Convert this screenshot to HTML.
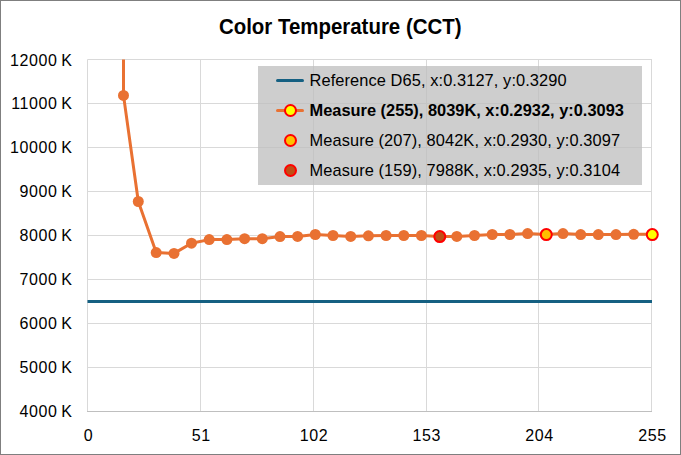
<!DOCTYPE html>
<html><head><meta charset="utf-8"><style>
html,body{margin:0;padding:0;}
body{width:681px;height:455px;position:relative;overflow:hidden;background:#fff;font-family:"Liberation Sans",sans-serif;color:#000;}
.frame{position:absolute;left:0;top:0;width:679px;height:453px;border:1px solid #7f7f7f;}
svg{position:absolute;left:0;top:0;}
.title{position:absolute;left:0;width:681px;top:14px;text-align:center;font-weight:bold;font-size:20.45px;line-height:24px;transform:translate(-0.3px,0.6px) scaleY(1.07);transform-origin:50% 19px;}
.yl{position:absolute;left:0;width:72px;text-align:right;font-size:16px;line-height:18px;}
.xl{position:absolute;top:427px;width:60px;text-align:center;font-size:16px;line-height:18px;}
.lg{position:absolute;left:258px;top:66px;width:384px;height:119px;background:rgba(191,191,191,0.76);}
.lt{position:absolute;left:51.5px;font-size:16.4px;letter-spacing:0.09px;line-height:18px;white-space:nowrap;}
</style></head><body>
<div class="frame"></div>
<div class="title">Color Temperature (CCT)</div>
<svg width="681" height="455" viewBox="0 0 681 455">
<line x1="87.5" y1="59.5" x2="652.0" y2="59.5" stroke="#d9d9d9" stroke-width="1"/>
<line x1="87.5" y1="103.5" x2="652.0" y2="103.5" stroke="#d9d9d9" stroke-width="1"/>
<line x1="87.5" y1="147.5" x2="652.0" y2="147.5" stroke="#d9d9d9" stroke-width="1"/>
<line x1="87.5" y1="191.5" x2="652.0" y2="191.5" stroke="#d9d9d9" stroke-width="1"/>
<line x1="87.5" y1="235.5" x2="652.0" y2="235.5" stroke="#d9d9d9" stroke-width="1"/>
<line x1="87.5" y1="279.5" x2="652.0" y2="279.5" stroke="#d9d9d9" stroke-width="1"/>
<line x1="87.5" y1="323.5" x2="652.0" y2="323.5" stroke="#d9d9d9" stroke-width="1"/>
<line x1="87.5" y1="367.5" x2="652.0" y2="367.5" stroke="#d9d9d9" stroke-width="1"/>
<line x1="87.5" y1="411.5" x2="652.0" y2="411.5" stroke="#d9d9d9" stroke-width="1"/>
<line x1="87.50" y1="59.5" x2="87.50" y2="411.5" stroke="#d9d9d9" stroke-width="1"/>
<line x1="200.50" y1="59.5" x2="200.50" y2="411.5" stroke="#d9d9d9" stroke-width="1"/>
<line x1="313.50" y1="59.5" x2="313.50" y2="411.5" stroke="#d9d9d9" stroke-width="1"/>
<line x1="426.50" y1="59.5" x2="426.50" y2="411.5" stroke="#d9d9d9" stroke-width="1"/>
<line x1="538.50" y1="59.5" x2="538.50" y2="411.5" stroke="#d9d9d9" stroke-width="1"/>
<line x1="651.50" y1="59.5" x2="651.50" y2="411.5" stroke="#d9d9d9" stroke-width="1"/>
<line x1="87.0" y1="411.5" x2="652.0" y2="411.5" stroke="#bfbfbf" stroke-width="1"/>
<line x1="87.5" y1="301.5" x2="652.0" y2="301.5" stroke="#156082" stroke-width="3"/>
<clipPath id="pc"><rect x="87.5" y="59.5" width="565.0" height="352.0"/></clipPath>
<g clip-path="url(#pc)">
<path d="M123.5,57.5 L123.5,95.4 L138.3,201.5 L156.2,252.6 L174.0,253.4 L191.5,243.2 L209.2,239.6 L226.9,239.6 L244.6,238.7 L262.3,238.7 L280.0,236.6 L297.6,236.4 L315.3,234.5 L333.0,235.5 L350.7,236.4 L368.4,235.8 L386.1,235.5 L403.8,235.5 L421.4,235.5 L439.1,236.4 L456.8,236.4 L474.5,235.5 L492.2,234.5 L509.9,234.5 L527.6,233.6 L545.3,234.4 L563.0,233.6 L580.7,234.6 L598.3,234.6 L616.0,234.6 L633.7,234.3 L651.5,234.3" fill="none" stroke="#E97132" stroke-width="3" stroke-linejoin="round"/>
</g>
<circle cx="123.5" cy="95.4" r="5.5" fill="#E97132"/>
<circle cx="138.3" cy="201.5" r="5.5" fill="#E97132"/>
<circle cx="156.2" cy="252.6" r="5.5" fill="#E97132"/>
<circle cx="174.0" cy="253.4" r="5.5" fill="#E97132"/>
<circle cx="191.5" cy="243.2" r="5.5" fill="#E97132"/>
<circle cx="209.2" cy="239.6" r="5.5" fill="#E97132"/>
<circle cx="226.9" cy="239.6" r="5.5" fill="#E97132"/>
<circle cx="244.6" cy="238.7" r="5.5" fill="#E97132"/>
<circle cx="262.3" cy="238.7" r="5.5" fill="#E97132"/>
<circle cx="280.0" cy="236.6" r="5.5" fill="#E97132"/>
<circle cx="297.6" cy="236.4" r="5.5" fill="#E97132"/>
<circle cx="315.3" cy="234.5" r="5.5" fill="#E97132"/>
<circle cx="333.0" cy="235.5" r="5.5" fill="#E97132"/>
<circle cx="350.7" cy="236.4" r="5.5" fill="#E97132"/>
<circle cx="368.4" cy="235.8" r="5.5" fill="#E97132"/>
<circle cx="386.1" cy="235.5" r="5.5" fill="#E97132"/>
<circle cx="403.8" cy="235.5" r="5.5" fill="#E97132"/>
<circle cx="421.4" cy="235.5" r="5.5" fill="#E97132"/>
<circle cx="439.1" cy="236.4" r="5.5" fill="#E97132"/>
<circle cx="456.8" cy="236.4" r="5.5" fill="#E97132"/>
<circle cx="474.5" cy="235.5" r="5.5" fill="#E97132"/>
<circle cx="492.2" cy="234.5" r="5.5" fill="#E97132"/>
<circle cx="509.9" cy="234.5" r="5.5" fill="#E97132"/>
<circle cx="527.6" cy="233.6" r="5.5" fill="#E97132"/>
<circle cx="545.3" cy="234.4" r="5.5" fill="#E97132"/>
<circle cx="563.0" cy="233.6" r="5.5" fill="#E97132"/>
<circle cx="580.7" cy="234.6" r="5.5" fill="#E97132"/>
<circle cx="598.3" cy="234.6" r="5.5" fill="#E97132"/>
<circle cx="616.0" cy="234.6" r="5.5" fill="#E97132"/>
<circle cx="633.7" cy="234.3" r="5.5" fill="#E97132"/>
<circle cx="651.5" cy="234.3" r="5.5" fill="#E97132"/>
<circle cx="439.8" cy="236.6" r="5.5" fill="#C04F15" stroke="#ff0000" stroke-width="2"/>
<circle cx="546.3" cy="234.6" r="5.5" fill="#FFC000" stroke="#ff0000" stroke-width="2"/>
<circle cx="652.3" cy="234.6" r="5.5" fill="#FFFF00" stroke="#ff0000" stroke-width="2"/>
</svg>
<div class="yl" style="top:51.5px"><span style="letter-spacing:0.58px">1200</span>0 K</div><div class="yl" style="top:95.4px"><span style="letter-spacing:0.58px">1100</span>0 K</div><div class="yl" style="top:139.3px"><span style="letter-spacing:0.58px">1000</span>0 K</div><div class="yl" style="top:183.2px"><span style="letter-spacing:0.58px">900</span>0 K</div><div class="yl" style="top:227.1px"><span style="letter-spacing:0.58px">800</span>0 K</div><div class="yl" style="top:271.0px"><span style="letter-spacing:0.58px">700</span>0 K</div><div class="yl" style="top:314.9px"><span style="letter-spacing:0.58px">600</span>0 K</div><div class="yl" style="top:358.8px"><span style="letter-spacing:0.58px">500</span>0 K</div><div class="yl" style="top:402.7px"><span style="letter-spacing:0.58px">400</span>0 K</div>
<div class="xl" style="left:58.1px"><span style="letter-spacing:0.6px;margin-left:0.6px">0</span></div><div class="xl" style="left:170.9px"><span style="letter-spacing:0.6px;margin-left:0.6px">51</span></div><div class="xl" style="left:283.7px"><span style="letter-spacing:0.6px;margin-left:0.6px">102</span></div><div class="xl" style="left:396.5px"><span style="letter-spacing:0.6px;margin-left:0.6px">153</span></div><div class="xl" style="left:509.3px"><span style="letter-spacing:0.6px;margin-left:0.6px">204</span></div><div class="xl" style="left:622.1px"><span style="letter-spacing:0.6px;margin-left:0.6px">255</span></div>
<div class="lg">
<svg width="384" height="119" viewBox="0 0 384 119" style="position:absolute;left:0;top:0">
<line x1="19.5" y1="14.5" x2="44.5" y2="14.5" stroke="#156082" stroke-width="3" stroke-linecap="round"/>
<line x1="19.5" y1="44.5" x2="44.5" y2="44.5" stroke="#E97132" stroke-width="3" stroke-linecap="round"/>
<circle cx="32.5" cy="44.5" r="5.5" fill="#FFFF00" stroke="#ff0000" stroke-width="2"/>
<circle cx="32.5" cy="74.5" r="5.5" fill="#FFC000" stroke="#ff0000" stroke-width="2"/>
<circle cx="32.5" cy="104.5" r="5.5" fill="#C04F15" stroke="#ff0000" stroke-width="2"/>
</svg>
<div class="lt" style="top:5px">Reference D65, x:0.3127, y:0.3290</div>
<div class="lt" style="top:35px;font-weight:bold;letter-spacing:0">Measure (255), 8039K, x:0.2932, y:0.3093</div>
<div class="lt" style="top:65px">Measure (207), 8042K, x:0.2930, y:0.3097</div>
<div class="lt" style="top:95px">Measure (159), 7988K, x:0.2935, y:0.3104</div>
</div>
</body></html>
